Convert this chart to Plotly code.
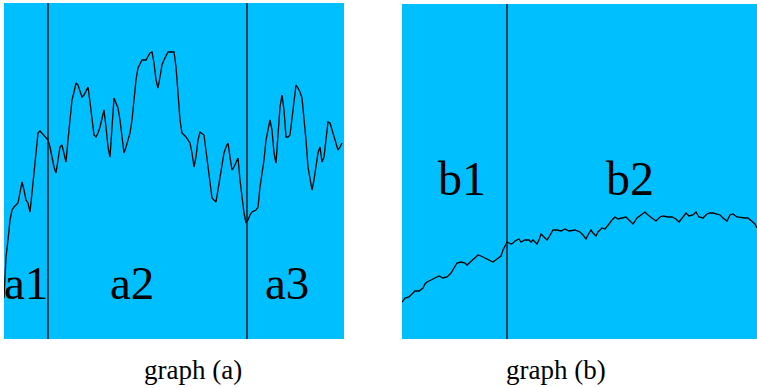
import plotly.graph_objects as go

# ---- panel (a) data: time, amplitude ----
a_t = [0, 2, 4, 6, 8, 10, 14, 16, 18, 20, 22, 24, 26, 28, 30, 32, 34, 36, 40, 44, 46, 48, 50, 52,
       54, 56, 58, 60, 62, 64, 66, 68, 70, 72, 74, 76, 78, 80, 82, 84, 86, 88, 90, 92, 94, 96, 98,
       100, 102, 104, 106, 108, 110, 112, 114, 116, 118, 120, 122, 124, 126, 128, 130, 132, 134,
       136, 138, 142, 144, 146, 148, 150, 152, 154, 156, 158, 160, 162, 164, 170, 172, 174, 176,
       178, 182, 186, 188, 190, 192, 194, 196, 200, 202, 204, 206, 208, 212, 214, 216, 218, 220,
       222, 224, 226, 228, 230, 232, 234, 236, 238, 240, 242, 244, 246, 248, 252, 254, 256, 258,
       260, 262, 264, 266, 268, 270, 272, 274, 276, 278, 280, 282, 284, 286, 288, 290, 292, 294,
       296, 298, 300, 302, 304, 306, 308, 310, 312, 314, 316, 318, 320, 322, 324, 326, 328, 330,
       332, 334, 336, 338]
a_v = [41, 82, 99, 119, 129, 132, 136, 146, 157, 149, 139, 136, 127, 146, 166, 184, 206, 208, 204,
       199, 192, 182, 172, 166, 179, 192, 194, 186, 177, 199, 222, 239, 247, 256, 254, 247, 242,
       244, 249, 252, 237, 222, 204, 202, 206, 212, 221, 229, 212, 192, 182, 212, 241, 236, 231,
       219, 199, 186, 192, 199, 206, 219, 239, 259, 271, 276, 279, 279, 282, 286, 287, 276, 259,
       251, 262, 274, 279, 284, 287, 287, 272, 246, 219, 206, 202, 196, 186, 172, 182, 199, 207,
       204, 189, 172, 156, 141, 137, 149, 159, 172, 186, 192, 196, 182, 169, 172, 177, 181, 159,
       139, 126, 116, 119, 124, 127, 129, 132, 152, 166, 179, 199, 209, 219, 209, 186, 176, 206,
       232, 244, 229, 202, 202, 204, 222, 239, 254, 251, 247, 241, 222, 199, 172, 159, 149, 159,
       172, 186, 192, 177, 182, 199, 217, 216, 209, 202, 196, 189, 192, 196]

# ---- panel (b) data ----
b_t = [0, 3, 7, 11, 13, 17, 21, 23, 25, 29, 33, 37, 41, 45, 49, 51, 53, 55, 59, 63, 65, 69, 73,
       76, 79, 83, 87, 91, 95, 99, 101, 103, 105, 107, 109, 111, 113, 117, 119, 123, 127, 129,
       131, 135, 137, 139, 141, 143, 145, 147, 149, 151, 155, 159, 163, 167, 173, 178, 181, 184,
       186, 189, 191, 194, 196, 200, 203, 205, 207, 210, 213, 216, 220, 224, 228, 231, 235, 239,
       243, 246, 250, 254, 258, 261, 266, 270, 274, 277, 281, 284, 287, 291, 294, 297, 301, 305,
       308, 311, 315, 318, 321, 325, 328, 331, 335, 340, 343, 346, 350, 353, 355]
b_v = [37, 41, 42, 46, 48, 48, 51, 55, 57, 59, 61, 63, 61, 62, 66, 69, 73, 76, 77, 76, 74, 78, 82,
       84, 83, 81, 79, 77, 80, 83, 89, 94, 97, 96, 95, 96, 98, 100, 97, 99, 99, 97, 99, 95, 99,
       105, 103, 101, 99, 102, 106, 109, 109, 108, 110, 108, 109, 107, 104, 100, 104, 109, 106,
       103, 107, 111, 110, 112, 115, 119, 122, 120, 121, 122, 118, 115, 121, 124, 127, 124, 121,
       118, 122, 123, 122, 122, 120, 117, 122, 126, 123, 124, 127, 122, 121, 125, 126, 126, 125,
       124, 121, 118, 124, 125, 122, 121, 121, 121, 118, 115, 111]

a_bounds = [44, 243]
b_bounds = [105]
a_labels = [("a1", 22), ("a2", 128), ("a3", 283)]
b_labels = [("b1", 60), ("b2", 228)]
captions = ["graph (a)", "graph (b)"]

W, H = 757, 388
CYAN = "#00BFFF"
serif = "Liberation Serif, serif"

fig = go.Figure()
fig.add_trace(go.Scatter(x=a_t, y=a_v, mode="lines", line=dict(color="black", width=1.3),
                         xaxis="x", yaxis="y", showlegend=False, hoverinfo="skip"))
fig.add_trace(go.Scatter(x=b_t, y=b_v, mode="lines", line=dict(color="black", width=1.3),
                         xaxis="x2", yaxis="y2", showlegend=False, hoverinfo="skip"))

ax_common = dict(showgrid=False, zeroline=False, showticklabels=False, ticks="", showline=False,
                 fixedrange=True)
fig.update_layout(
    width=W, height=H, margin=dict(l=0, r=0, t=0, b=0),
    paper_bgcolor="white", plot_bgcolor=CYAN,
    font=dict(family=serif),
    xaxis=dict(domain=[4 / W, 344 / W], range=[0, 340], **ax_common),
    yaxis=dict(domain=[(H - 339) / H, (H - 3) / H], range=[0, 336], **ax_common),
    xaxis2=dict(domain=[402 / W, 1], range=[0, 355], anchor="y2", **ax_common),
    yaxis2=dict(domain=[(H - 339) / H, (H - 4) / H], range=[0, 335], anchor="x2", **ax_common),
)

shapes = []
for b in a_bounds:
    shapes.append(dict(type="line", xref="x", yref="y domain", x0=b, x1=b, y0=0, y1=1,
                       line=dict(color="black", width=1.3)))
for b in b_bounds:
    shapes.append(dict(type="line", xref="x2", yref="y2 domain", x0=b, x1=b, y0=0, y1=1,
                       line=dict(color="black", width=1.3)))
fig.update_layout(shapes=shapes)

ann = []
for txt, x in a_labels:
    ann.append(dict(text=txt, x=x, y=56, xref="x", yref="y", showarrow=False,
                    xanchor="center", yanchor="middle",
                    font=dict(family=serif, size=47, color="black")))
for txt, x in b_labels:
    ann.append(dict(text=txt, x=x, y=161, xref="x2", yref="y2", showarrow=False,
                    xanchor="center", yanchor="middle",
                    font=dict(family=serif, size=48, color="black")))
for txt, px in zip(captions, [193, 556]):
    ann.append(dict(text=txt, x=px / W, y=(H - 370) / H, xref="paper", yref="paper",
                    xanchor="center", yanchor="middle", showarrow=False,
                    font=dict(family=serif, size=27, color="black")))
fig.update_layout(annotations=ann)

fig.write_html("out.html")
